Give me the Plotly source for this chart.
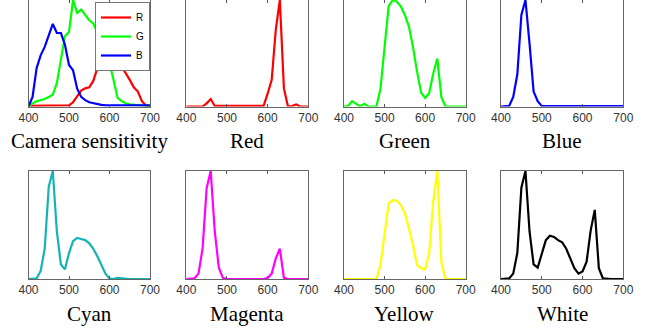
import plotly.graph_objects as go

wl = list(range(400, 701, 10))

cam_R = [0.005, 0.005, 0.005, 0.005, 0.005, 0.005, 0.005, 0.005, 0.005, 0.008, 0.01,
         0.04, 0.09, 0.15, 0.17, 0.18, 0.24, 0.37, 0.48, 0.55, 0.6,
         0.5, 0.44, 0.38, 0.31, 0.25, 0.18, 0.14, 0.05, 0.01, 0.0]
cam_G = [0.0, 0.03, 0.05, 0.06, 0.07, 0.09, 0.11, 0.22, 0.44, 0.66, 0.7,
         1.0, 0.88, 0.91, 0.86, 0.81, 0.78, 0.7, 0.62, 0.5, 0.41,
         0.25, 0.08, 0.05, 0.03, 0.02, 0.015, 0.01, 0.005, 0.005, 0.005]
cam_B = [0.0, 0.09, 0.36, 0.48, 0.56, 0.66, 0.775, 0.69, 0.69, 0.58, 0.39,
         0.34, 0.17, 0.09, 0.06, 0.04, 0.03, 0.02, 0.015, 0.01, 0.01,
         0.01, 0.01, 0.01, 0.01, 0.01, 0.01, 0.01, 0.01, 0.01, 0.01]

red = [0, 0, 0, 0, 0, 0.03, 0.07, 0.005, 0.005, 0.005, 0.005,
       0.005, 0.005, 0.005, 0.01, 0.005, 0.01, 0.005, 0.005, 0.005, 0.12,
       0.25, 0.72, 1.0, 0.17, 0.0, 0.005, 0.02, 0.0, 0.0, 0.0]
green = [0, 0.005, 0.05, 0.025, 0.0, 0.025, 0.0, 0.0, 0.0, 0.17, 0.56,
         0.94, 1.0, 0.985, 0.94, 0.86, 0.75, 0.56, 0.33, 0.13, 0.08,
         0.125, 0.31, 0.45, 0.09, 0.0, 0, 0, 0, 0, 0]
blue = [0, 0, 0.005, 0.09, 0.3, 0.86, 1.0, 0.59, 0.14, 0.05, 0.005,
        0.003, 0.003, 0.003, 0.003, 0.003, 0.003, 0.003, 0.003, 0.003, 0.006,
        0.003, 0.006, 0.003, 0.003, 0.003, 0.003, 0.003, 0.003, 0.003, 0.003]
cyan = [0, 0, 0.005, 0.075, 0.28, 0.855, 1.0, 0.44, 0.135, 0.09, 0.24,
        0.35, 0.38, 0.37, 0.36, 0.33, 0.28, 0.21, 0.13, 0.05, 0.005,
        0.0, 0.01, 0.005, 0.0, 0, 0, 0, 0, 0, 0]
magenta = [0, 0, 0.005, 0.05, 0.28, 0.84, 1.0, 0.44, 0.105, 0.01, 0,
           0, 0, 0, 0, 0, 0, 0, 0, 0, 0.01,
           0.05, 0.19, 0.28, 0.01, 0, 0, 0, 0, 0, 0]
yellow = [0, 0, 0, 0, 0, 0, 0, 0, 0, 0.13, 0.42,
          0.70, 0.73, 0.725, 0.685, 0.61, 0.47, 0.315, 0.13, 0.10, 0.09,
          0.24, 0.72, 1.0, 0.16, 0, 0, 0, 0, 0, 0]
white = [0, 0, 0.005, 0.05, 0.24, 0.845, 1.0, 0.44, 0.135, 0.105, 0.24,
         0.36, 0.40, 0.39, 0.36, 0.34, 0.28, 0.19, 0.10, 0.05, 0.07,
         0.16, 0.45, 0.64, 0.10, 0.005, 0, 0, 0, 0, 0]

titles = ["Camera sensitivity", "Red", "Green", "Blue",
          "Cyan", "Magenta", "Yellow", "White"]
x_ticks = [400, 500, 600, 700]

W, H = 650, 332
col_px = [(28.5, 150.0), (186.3, 308.3), (344.0, 465.7), (501.0, 623.3)]
row_px = [(0.0, 106.5), (171.0, 279.0)]
title_y_px = [141, 314]

fig = go.Figure()

panels = [
    [("R", cam_R, "#ff0000"), ("G", cam_G, "#00ff00"), ("B", cam_B, "#0000ff")],
    [("Red", red, "#ff0000")],
    [("Green", green, "#00ff00")],
    [("Blue", blue, "#0000ff")],
    [("Cyan", cyan, "#14b4b4")],
    [("Magenta", magenta, "#ff00ff")],
    [("Yellow", yellow, "#ffff00")],
    [("White", white, "#000000")],
]

annotations = []
for i, traces in enumerate(panels):
    r, c = divmod(i, 4)
    k = i + 1
    xa = "x" if k == 1 else f"x{k}"
    ya = "y" if k == 1 else f"y{k}"
    for name, vals, col in traces:
        fig.add_trace(go.Scatter(
            x=wl, y=vals, mode="lines", name=name,
            line=dict(color=col, width=2.2),
            xaxis=xa, yaxis=ya, showlegend=(i == 0),
        ))
    x0, x1 = col_px[c]
    y0, y1 = row_px[r]
    xd = [x0 / W, x1 / W]
    yd = [1 - y1 / H, 1 - y0 / H]
    axkey = "xaxis" if k == 1 else f"xaxis{k}"
    aykey = "yaxis" if k == 1 else f"yaxis{k}"
    fig.update_layout(**{
        axkey: dict(domain=xd, anchor=ya, range=[400, 700], tickvals=x_ticks,
                    ticks="inside", ticklen=3, tickcolor="#555", mirror="ticks",
                    showline=True, linecolor="#666", linewidth=1,
                    showgrid=False, zeroline=False, automargin=False,
                    tickfont=dict(family="Liberation Sans, Arial", size=12, color="#333")),
        aykey: dict(domain=yd, anchor=xa, range=[0, 1.0], showticklabels=False,
                    ticks="", mirror=True, showline=True, linecolor="#666",
                    linewidth=1, showgrid=False, zeroline=False, automargin=False),
    })
    annotations.append(dict(
        text=titles[i], x=(x0 + x1) / 2 / W, y=1 - title_y_px[r] / H,
        xref="paper", yref="paper", showarrow=False, xanchor="center", yanchor="middle",
        font=dict(family="Liberation Serif, Times New Roman", size=21, color="#000"),
    ))

fig.update_layout(
    width=W, height=H,
    margin=dict(l=0, r=0, t=0, b=0, pad=0, autoexpand=False),
    plot_bgcolor="white", paper_bgcolor="white",
    annotations=annotations,
    showlegend=True,
    legend=dict(x=150 / W, y=1 - 2 / H, xanchor="right", yanchor="top",
                bgcolor="white", bordercolor="#777", borderwidth=1,
                font=dict(family="Liberation Sans, Arial", size=10, color="#000"),
                itemwidth=30, tracegroupgap=0),
)

fig.write_html(
    "out.html",
    config={"displayModeBar": False},
    post_script="document.body.style.margin='0';document.body.style.overflow='hidden';",
)
